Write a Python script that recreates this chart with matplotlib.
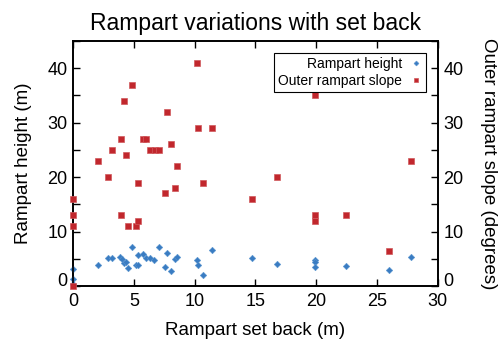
import matplotlib
matplotlib.use('Agg')
import matplotlib.pyplot as plt
from matplotlib.ticker import MultipleLocator, FuncFormatter

plt.rcParams['font.family'] = ['Liberation Sans', 'DejaVu Sans']

# rampart set back (m) / rampart height (m)
height_x = [0, 0, 0, 2.05, 2.88, 3.18, 3.89, 4.0, 4.16, 4.38, 4.52, 4.82, 5.18, 5.37,
            5.34, 5.78, 5.97, 6.36, 6.68, 7.10, 7.59, 7.70, 8.05, 8.38, 8.55,
            10.22, 10.30, 10.71, 11.40, 14.68, 16.76, 19.89, 19.89, 19.89, 22.46,
            25.97, 27.78]
height_y = [3.2, 1.3, 0.4, 3.9, 5.2, 5.1, 5.4, 4.9, 4.3, 4.5, 3.3, 7.1, 3.8, 3.8,
            5.7, 5.9, 5.2, 5.1, 4.8, 7.1, 3.5, 6.0, 2.7, 5.0, 5.4,
            4.8, 3.9, 2.1, 6.7, 5.1, 4.0, 4.8, 4.4, 3.5, 3.7,
            3.0, 5.3]

# rampart set back (m) / outer rampart slope (degrees)
slope_x = [0, 0, 0, 0, 2.05, 2.88, 3.18, 3.92, 3.92, 4.16, 4.38, 4.52, 4.85, 5.18,
           5.37, 5.34, 5.78, 6.03, 6.36, 6.71, 7.10, 7.59, 7.70, 8.05, 8.38, 8.52,
           10.22, 10.28, 11.40, 10.71, 14.68, 16.76, 19.89, 19.89, 19.89, 22.46,
           25.97, 27.78]
slope_y = [16, 13, 11, 0, 23, 20, 25, 27, 13, 34, 24, 11, 37, 11,
           12, 19, 27, 27, 25, 25, 25, 17, 32, 26, 18, 22,
           41, 29, 29, 19, 16, 20, 35, 13, 12, 13,
           6.5, 23]

red = '#c1272d'
blue = '#3a7cc2'

fig = plt.figure(figsize=(4.98, 3.45), dpi=100)
ax = fig.add_axes([0.147, 0.171, 0.732, 0.71])
ax2 = ax.twinx()

h1, = ax.plot(height_x, height_y, 'D', color=blue, markersize=3.3,
              markeredgewidth=0.4, markeredgecolor='#5b95d0', clip_on=False,
              label='Rampart height', zorder=3)
h2, = ax2.plot(slope_x, slope_y, 's', color=red, markersize=4.0,
               markeredgewidth=0.5, markeredgecolor='#d0595c', clip_on=False,
               label='Outer rampart slope', zorder=3)

ax.set_xlim(0, 30)
ax.set_ylim(0, 45)
ax2.set_ylim(0, 45)

# the zero labels are drawn by hand a bit higher, like the original
nozero = FuncFormatter(lambda v, p: '' if v == 0 else '%d' % v)
ax.xaxis.set_major_locator(MultipleLocator(5))
for a in (ax, ax2):
    a.yaxis.set_major_locator(MultipleLocator(10))
    a.yaxis.set_minor_locator(MultipleLocator(5))
    a.yaxis.set_major_formatter(nozero)
ax.tick_params(axis='both', which='both', direction='in', length=5, width=1,
               top=True, labelsize=13, pad=4)
ax.tick_params(axis='x', pad=5)
ax.tick_params(axis='y', which='both', right=False)
ax2.tick_params(axis='y', which='both', direction='in', length=5, width=1,
                labelsize=13, pad=4)
for a in (ax, ax2):
    for s in a.spines.values():
        s.set_linewidth(1.2)

ax.annotate('0', xy=(0, 0), xycoords=('axes fraction', 'data'),
            xytext=(-4, 0), textcoords='offset points',
            ha='right', va='baseline', fontsize=13)
ax.annotate('0', xy=(1, 0), xycoords=('axes fraction', 'data'),
            xytext=(4, 0), textcoords='offset points',
            ha='left', va='baseline', fontsize=13)

ax.set_xlabel('Rampart set back (m)', fontsize=13.5, labelpad=9)
ax.set_ylabel('Rampart height (m)', fontsize=13.5, labelpad=11)
ax2.set_ylabel('Outer rampart slope (degrees)', fontsize=13.5, rotation=270,
               labelpad=24)
ax.set_title('Rampart variations with set back', fontsize=16.5, pad=8)

leg = ax2.legend(handles=[h1, h2], loc='upper right', fontsize=10,
                 markerfirst=False, fancybox=False, framealpha=1,
                 edgecolor='black', handlelength=0.8, handletextpad=0.6,
                 borderpad=0.3, labelspacing=0.2, borderaxespad=0.6,
                 bbox_to_anchor=(0.99, 0.985))
leg.get_frame().set_linewidth(0.8)
leg.legend_handles[0].set_markersize(2.5)
leg.legend_handles[1].set_markersize(3.5)

fig.savefig('out.png', dpi=100)
